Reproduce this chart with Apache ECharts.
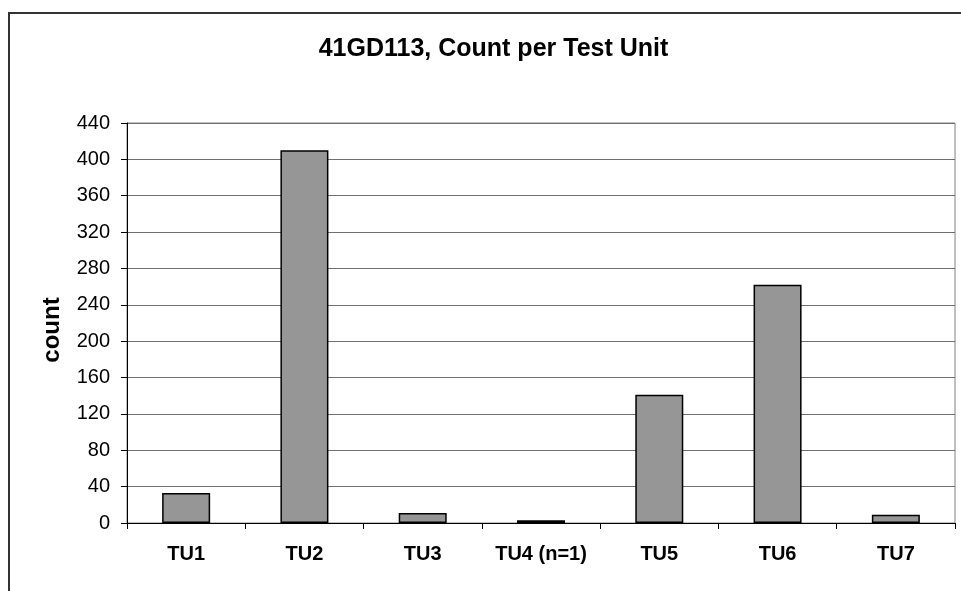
<!DOCTYPE html>
<html>
<head>
<meta charset="utf-8">
<script src="https://cdn.jsdelivr.net/npm/echarts@6/dist/echarts.min.js"></script>
<style>html,body{margin:0;padding:0;background:#fff}#c{width:961px;height:591px}</style>
</head>
<body>
<div id="c"></div>
<script>
const titleText = '41GD113, Count per Test Unit';
const categories = ['TU1', 'TU2', 'TU3', 'TU4 (n=1)', 'TU5', 'TU6', 'TU7'];
const counts = [33, 410, 11, 3, 141, 262, 9];
const yMin = 0, yMax = 440, yStep = 40;
const yName = 'count';

const chart = echarts.init(document.getElementById('c'), null, {renderer: 'canvas'});
chart.setOption({
  animation: false,
  backgroundColor: '#fff',
  graphic: [
    {type: 'rect', shape: {x: 9, y: 13, width: 1100, height: 1100}, style: {fill: 'none', stroke: '#333', lineWidth: 2}, z: -1},
    {type: 'text', x: 493.5, y: 49, style: {text: titleText, textAlign: 'center', textVerticalAlign: 'middle', font: 'bold 25px "Liberation Sans", Arial, sans-serif', fill: '#000'}}
  ],
  grid: {left: 127, right: 6, top: 123, bottom: 68, show: true, borderColor: '#808080', borderWidth: 1, backgroundColor: 'transparent'},
  xAxis: {
    type: 'category', data: categories,
    axisLine: {lineStyle: {color: '#000', width: 1}},
    axisTick: {show: true, alignWithLabel: false, length: 6, lineStyle: {color: '#000'}},
    axisLabel: {margin: 21, color: '#000', fontSize: 20, fontWeight: 'bold', fontFamily: '"Liberation Sans", Arial, sans-serif', interval: 0}
  },
  yAxis: {
    type: 'value', min: yMin, max: yMax, interval: yStep,
    name: yName, nameLocation: 'middle', nameRotate: 90, nameGap: 63,
    nameTextStyle: {color: '#000', fontSize: 24, fontWeight: 'bold', fontFamily: '"Liberation Sans", Arial, sans-serif', padding: [0, 14, 0, 0]},
    axisLine: {show: true, lineStyle: {color: '#000', width: 1}},
    axisTick: {show: true, length: 6, lineStyle: {color: '#000'}},
    axisLabel: {margin: 17, color: '#000', fontSize: 20, fontFamily: '"Liberation Sans", Arial, sans-serif'},
    splitLine: {show: true, lineStyle: {color: '#707070', width: 1}}
  },
  series: [{
    type: 'bar', data: counts, barWidth: 48,
    itemStyle: {color: '#969696', borderColor: '#000', borderWidth: 1.5}
  }]
});
</script>
</body>
</html>
